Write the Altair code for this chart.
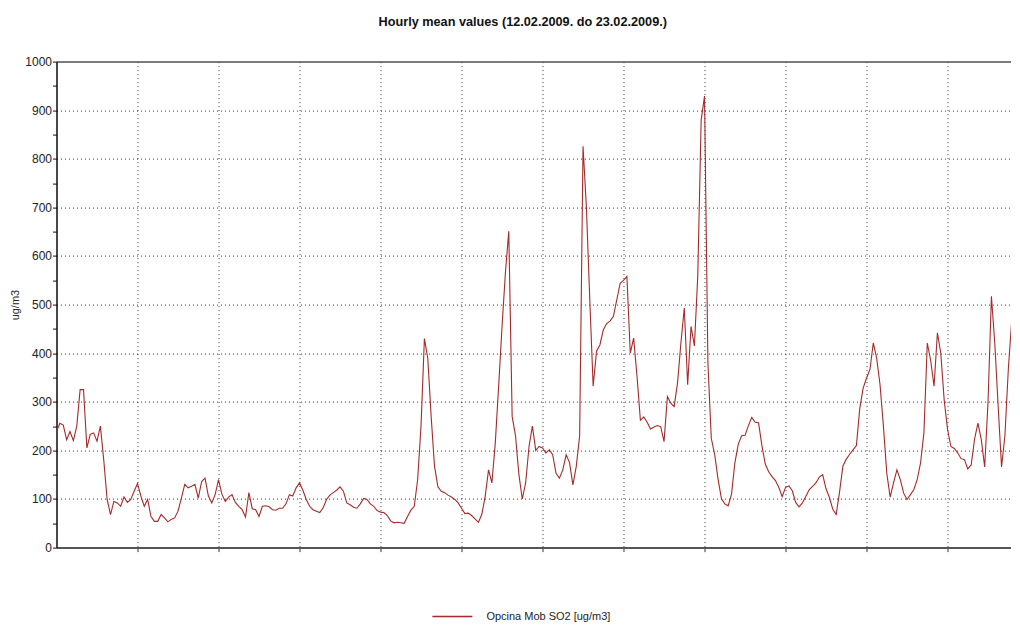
import altair as alt
import pandas as pd

# Hourly SO2 values (hour 0 = 12.02.2009 00:00)
values = [
    239, 256, 252, 222, 239, 220, 250, 325, 325, 205,
    233, 236, 219, 250, 180, 99, 68, 95, 92, 85,
    104, 93, 99, 116, 132, 106, 85, 99, 64, 54,
    54, 68, 61, 53, 58, 61, 75, 102, 130, 123,
    126, 130, 102, 136, 143, 106, 92, 109, 140,
    110, 95, 104, 109, 93, 85, 78, 63, 113, 80,
    78, 64, 85, 86, 84, 78, 77, 81, 81, 90,
    109, 106, 123, 133, 118, 99, 85, 78, 75, 72,
    82, 99, 108, 113, 118, 125, 116, 92, 88, 83,
    81, 90, 101, 99, 90, 85, 76,
    73, 72, 66, 55, 51, 52, 51, 50, 64, 77,
    85, 140, 250, 430, 390, 270, 167, 125, 116, 113,
    108, 104, 99, 92, 81, 70, 71, 66, 59, 52,
    68, 105, 160, 133, 215, 332, 455, 565, 651, 270,
    230, 150, 100, 133, 208, 250, 200,
    208, 205, 195, 201, 191, 153, 143, 160, 191, 175,
    129, 167, 230, 826, 700, 510, 332, 404, 417, 448,
    461, 466, 476, 510, 544, 550, 558, 400, 431, 352,
    262, 269, 258, 244, 248, 251, 249, 218, 311, 297,
    290, 339, 421, 493, 335, 455, 415, 560, 880, 929,
    380, 225, 192, 141, 101, 90, 86, 110, 175, 213,
    230, 231, 251, 268, 258, 257, 210, 172, 156, 146,
    138, 124, 105, 124, 127, 117, 93, 84, 92, 105,
    119, 126, 133, 145, 150, 121, 103, 79, 68, 114,
    168, 182, 192, 201, 210, 287, 328, 349, 366, 421,
    390, 335, 250, 153, 104, 133, 160, 140, 112, 99,
    109, 119, 140, 174, 236, 421, 385, 332, 442, 400,
    304, 243, 208, 204, 195, 183, 181, 162, 170, 223,
    256, 222, 166, 300, 517, 420, 291, 166, 230, 366,
    466, 503, 613,
]
hours = list(range(len(values)))
series_name = "Opcina Mob SO2 [ug/m3]"
day_ticks = [24 * i for i in range(1, 12)]
y_ticks = list(range(0, 1001, 50))
title_text = "Hourly mean values (12.02.2009. do 23.02.2009.)"
y_title = "ug/m3"

df = pd.DataFrame({"hour": hours, "value": values, "series": [series_name] * len(values)})

FONT = "Liberation Sans"

line = alt.Chart(df).mark_line(strokeWidth=1.1, clip=True).encode(
    x=alt.X(
        "hour:Q",
        scale=alt.Scale(domain=[0, 282.8], nice=False, zero=False),
        axis=alt.Axis(
            values=day_ticks, labels=False, title=None,
            grid=True, gridDash=[1, 3], gridColor="#333", gridWidth=1,
            ticks=True, tickSize=4, tickColor="#333",
            domainColor="#555", domainWidth=2,
        ),
    ),
    y=alt.Y(
        "value:Q",
        scale=alt.Scale(domain=[0, 1000], nice=False),
        axis=alt.Axis(
            values=y_ticks, format="d",
            labelExpr="datum.value % 100 === 0 ? datum.label : ''",
            labelOverlap=False,
            labelFont=FONT, labelFontSize=12, labelColor="#222", labelPadding=1,
            title=y_title, titleFont=FONT, titleFontSize=11, titleFontWeight="normal",
            titleColor="#222", titlePadding=4.7,
            grid=True,
            gridOpacity={"condition": {"test": "datum.value % 100 === 0", "value": 1}, "value": 0},
            gridDash={"condition": {"test": "datum.value === 1000", "value": [1, 0]}, "value": [1, 3]},
            gridColor={"condition": {"test": "datum.value === 1000", "value": "#555"}, "value": "#333"},
            gridWidth={"condition": {"test": "datum.value === 1000", "value": 1.5}, "value": 1},
            tickSize=4, tickColor="#111",
            domainColor="#111", domainWidth=1.5,
        ),
    ),
    color=alt.Color(
        "series:N",
        scale=alt.Scale(range=["#a52a2a"]),
        legend=alt.Legend(
            orient="none", legendX=374.9, legendY=534.0, direction="horizontal",
            title=None, symbolType="stroke", symbolSize=1600, symbolStrokeWidth=1.5,
            labelFont=FONT, labelFontSize=11, labelColor="#222", labelOffset=13,
            padding=0,
        ),
    ),
)

chart = line.properties(
    width=954.5,
    height=486,
    padding={"left": 0.5, "top": 7.6, "right": 0, "bottom": 0},
    title=alt.TitleParams(
        text=title_text, font=FONT, fontSize=12.7, fontWeight="bold",
        color="#111", offset=27.1, dx=-11, anchor="middle",
    ),
).configure_view(stroke=None).configure(background="white")

chart.save("out.html", embed_options={"renderer": "svg", "actions": False})
